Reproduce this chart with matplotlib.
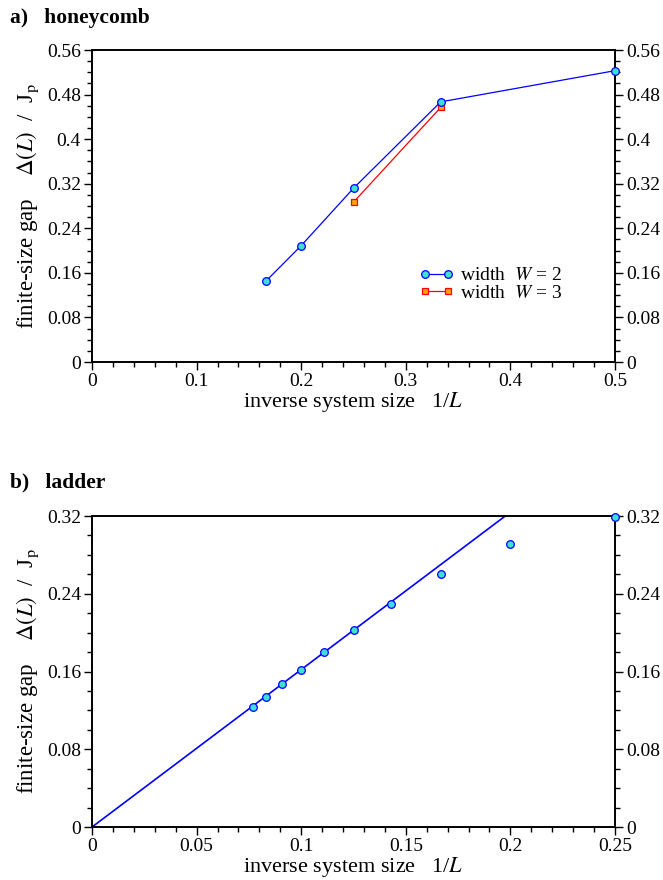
import numpy as np
import matplotlib
matplotlib.use("Agg")
import matplotlib.pyplot as plt
from matplotlib.ticker import MultipleLocator, FuncFormatter

plt.rcParams['font.family'] = ['Liberation Serif', 'DejaVu Serif']
plt.rcParams['mathtext.fontset'] = 'stix'

# honeycomb data
hc_L_w2 = [6, 5, 4, 3, 2]
hc_gap_w2 = [0.146, 0.209, 0.312, 0.467, 0.523]
hc_L_w3 = [4, 3]
hc_gap_w3 = [0.287, 0.457]

# ladder data
lad_L = [13, 12, 11, 10, 9, 8, 7, 6, 5, 4]
lad_gap = [0.124, 0.134, 0.147, 0.162, 0.180, 0.203, 0.229, 0.260, 0.291, 0.319]
fit_slope = 1.62
fit_x = [0.0, 0.25]

def fmt(v, pos):
    s = '%g' % round(v, 4)
    return s

def style_axes(ax, xmaj, xmin, ymaj, ymin):
    for sp in ax.spines.values():
        sp.set_linewidth(1.4)
    ax.xaxis.set_major_locator(MultipleLocator(xmaj))
    ax.xaxis.set_minor_locator(MultipleLocator(xmin))
    ax.yaxis.set_major_locator(MultipleLocator(ymaj))
    ax.yaxis.set_minor_locator(MultipleLocator(ymin))
    ax.xaxis.set_major_formatter(FuncFormatter(fmt))
    ax.yaxis.set_major_formatter(FuncFormatter(fmt))
    ax.tick_params(which='both', direction='out', top=False, right=True,
                   labelright=True, labelsize=14, width=1.0, pad=2)
    ax.tick_params(which='major', length=6)
    ax.tick_params(which='minor', length=3.5)
    ax.set_xlabel(r'inverse system size   1/$L$', fontsize=16, labelpad=0)
    ax.set_ylabel(r'finite-size gap    $\Delta(L)$  /  J$_\mathrm{p}$',
                  fontsize=16.5, labelpad=4)

fig = plt.figure(figsize=(6.63, 8.8), dpi=100)

# a) honeycomb
ax1 = fig.add_axes([0.1388, 0.5886, 0.7888, 0.3545])
x2 = 1.0 / np.array(hc_L_w2)
x3 = 1.0 / np.array(hc_L_w3)
ax1.plot(x2, hc_gap_w2, '-o', color='#0000ff', lw=0.9, ms=5.5,
         mfc='#40e0d0', mec='#0000ff', mew=0.9, clip_on=False,
         label=r'width  $W$ = 2', zorder=4)
ax1.plot(x3, hc_gap_w3, '-s', color='#ff0000', lw=0.9, ms=5,
         mfc='#ffa500', mec='#ff0000', mew=0.9, clip_on=False,
         label=r'width  $W$ = 3', zorder=3)
ax1.set_xlim(0, 0.5)
ax1.set_ylim(0, 0.56)
style_axes(ax1, 0.1, 0.02, 0.08, 0.02)
ax1.legend(loc='upper left', bbox_to_anchor=(0.61, 0.33), frameon=False,
           numpoints=2, handlelength=1.8, handletextpad=0.3,
           labelspacing=0.0, fontsize=14, borderaxespad=0)
fig.text(0.015, 0.979, 'a)   honeycomb', fontsize=15.5, fontweight='bold', va='center')

# b) ladder
ax2 = fig.add_axes([0.1388, 0.0602, 0.7888, 0.3534])
fx = np.array(fit_x)
ax2.plot(fx, fit_slope * fx, '-', color='#0000ff', lw=1.2, zorder=2)
ax2.plot(1.0 / np.array(lad_L), lad_gap, 'o', ms=5.5, mfc='#40e0d0',
         mec='#0000ff', mew=0.9, clip_on=False, zorder=4)
ax2.set_xlim(0, 0.25)
ax2.set_ylim(0, 0.32)
style_axes(ax2, 0.05, 0.01, 0.08, 0.02)
fig.text(0.015, 0.452, 'b)   ladder', fontsize=15.5, fontweight='bold', va='center')

fig.savefig('out.png', dpi=100)
